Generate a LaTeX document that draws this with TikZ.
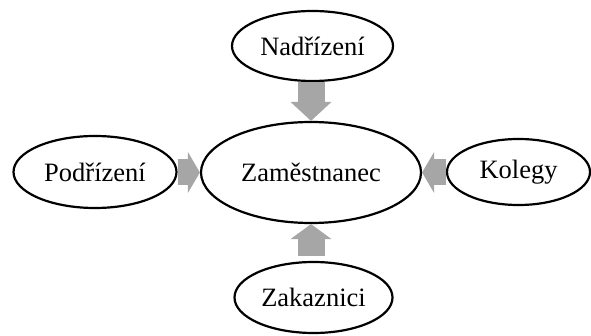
\documentclass[tikz,border=0pt]{standalone}
\usepackage{fontspec}
\setmainfont{Liberation Serif}
\usetikzlibrary{shapes.geometric,arrows.meta}
\definecolor{arrowgray}{RGB}{166,166,166}
\begin{document}
\begin{tikzpicture}[x=1pt,y=-1pt,
  role/.style={ellipse,draw=black,line width=2.2pt,inner sep=0pt,
    font=\fontsize{26.5}{30}\selectfont},
  vflow/.style={draw=arrowgray,line width=27pt,
    -{Triangle[width=41pt,length=#1,line width=0pt]}},
  hflow/.style={draw=arrowgray,line width=26pt,
    -{Triangle[width=41pt,length=#1,line width=0pt]}}]
  \useasboundingbox (0,0) rectangle (591,336);
  % central employee and the four surrounding groups
  \node[role,minimum width=220pt,minimum height=101pt] (main) at (311,172.5) {Zaměstnanec};
  \node[role,minimum width=161pt,minimum height=70pt] (boss) at (312.5,46) {Nadřízení};
  \node[role,minimum width=163pt,minimum height=72pt] (sub) at (95,172) {Podřízení};
  \node[role,minimum width=143pt,minimum height=66pt] (peer) at (518.5,172) {Kolegy};
  \node[role,minimum width=158pt,minimum height=71pt] (cust) at (313.5,297.5) {Zakaznici};
  % gray block arrows pointing at the employee
  \draw[vflow=19pt] (boss.south -| main.north) -- (main.north);
  \draw[vflow=15pt,shorten <=5pt] (cust.north -| main.south) -- (main.south);
  \draw[hflow=12pt] (sub.east |- main.west) -- (main.west);
  \draw[hflow=12pt] (peer.west |- main.east) -- (main.east);
\end{tikzpicture}
\end{document}
